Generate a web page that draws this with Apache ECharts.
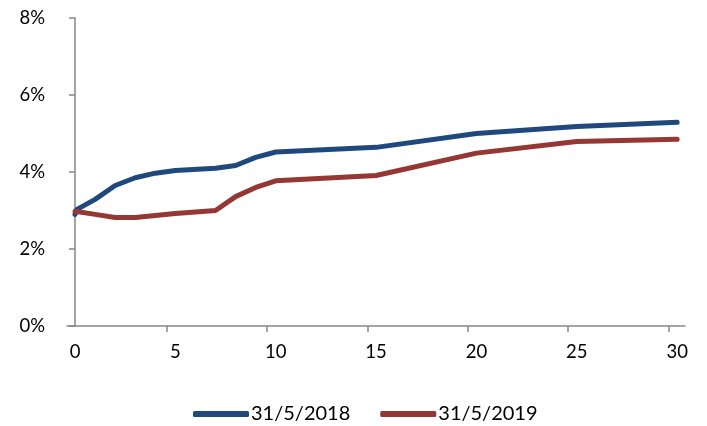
<!DOCTYPE html>
<html>
<head>
<meta charset="utf-8">
<script src="https://cdn.jsdelivr.net/npm/echarts@6/dist/echarts.min.js"></script>
<style>html,body{margin:0;padding:0;background:#fff}#c{width:707px;height:426px}</style>
</head>
<body>
<div id="c"></div>
<script>
var seriesNames = ['31/5/2018', '31/5/2019'];
var maturities2018 = [0, 0.1, 1, 2, 3, 4, 5, 7, 8, 9, 10, 15, 20, 25, 30];
var yields2018 = [2.90, 3.03, 3.29, 3.65, 3.85, 3.97, 4.04, 4.10, 4.17, 4.38, 4.52, 4.64, 5.00, 5.18, 5.29];
var maturities2019 = [0, 1, 2, 3, 4, 5, 7, 8, 9, 10, 15, 20, 25, 30];
var yields2019 = [2.98, 2.90, 2.82, 2.82, 2.87, 2.92, 3.00, 3.36, 3.60, 3.77, 3.91, 4.49, 4.79, 4.85];
var xLabelValues = [0, 5, 10, 15, 20, 25, 30];
var yTicks = [0, 2, 4, 6, 8];

function pairs(xs, ys) { return xs.map(function (x, i) { return [x, ys[i]]; }); }

var axisGray = '#868686';
var font = 'Lato, "Open Sans", sans-serif';
var chart = echarts.init(document.getElementById('c'));
chart.setOption({
  animation: false,
  grid: { left: 67, right: 22, top: 18, bottom: 100, containLabel: false },
  xAxis: {
    type: 'value', min: -0.4, max: 30.39,
    splitLine: { show: false },
    axisLine: { lineStyle: { color: axisGray, width: 1.5 } },
    axisTick: { show: true, length: 6, lineStyle: { color: axisGray, width: 1.5 },
      customValues: xLabelValues.map(function (v) { return v - 0.43; }) },
    axisLabel: { customValues: xLabelValues, color: '#000', fontSize: 18.5, fontFamily: font, margin: 17 }
  },
  yAxis: {
    type: 'value', min: yTicks[0], max: yTicks[yTicks.length - 1], interval: 2,
    splitLine: { show: false },
    axisLine: { show: true, lineStyle: { color: axisGray, width: 1.5 } },
    axisTick: { show: true, length: 6, lineStyle: { color: axisGray, width: 1.5 } },
    axisLabel: { formatter: '{value}%', color: '#000', fontSize: 18.5, fontFamily: font, margin: 22 }
  },
  legend: {
    left: 188, top: 399, itemWidth: 56, itemHeight: 6, itemGap: 30, icon: 'roundRect',
    textStyle: { fontSize: 20, fontFamily: font, color: '#000', padding: [0, 0, 0, -3] },
    data: seriesNames
  },
  series: [
    { name: seriesNames[0], type: 'line', data: pairs(maturities2018, yields2018), showSymbol: false, symbol: 'none',
      itemStyle: { color: '#1F497D' }, lineStyle: { color: '#1F497D', width: 5, cap: 'round', join: 'round' } },
    { name: seriesNames[1], type: 'line', data: pairs(maturities2019, yields2019), showSymbol: false, symbol: 'none',
      itemStyle: { color: '#953735' }, lineStyle: { color: '#953735', width: 5, cap: 'round', join: 'round' } }
  ]
});
</script>
</body>
</html>
